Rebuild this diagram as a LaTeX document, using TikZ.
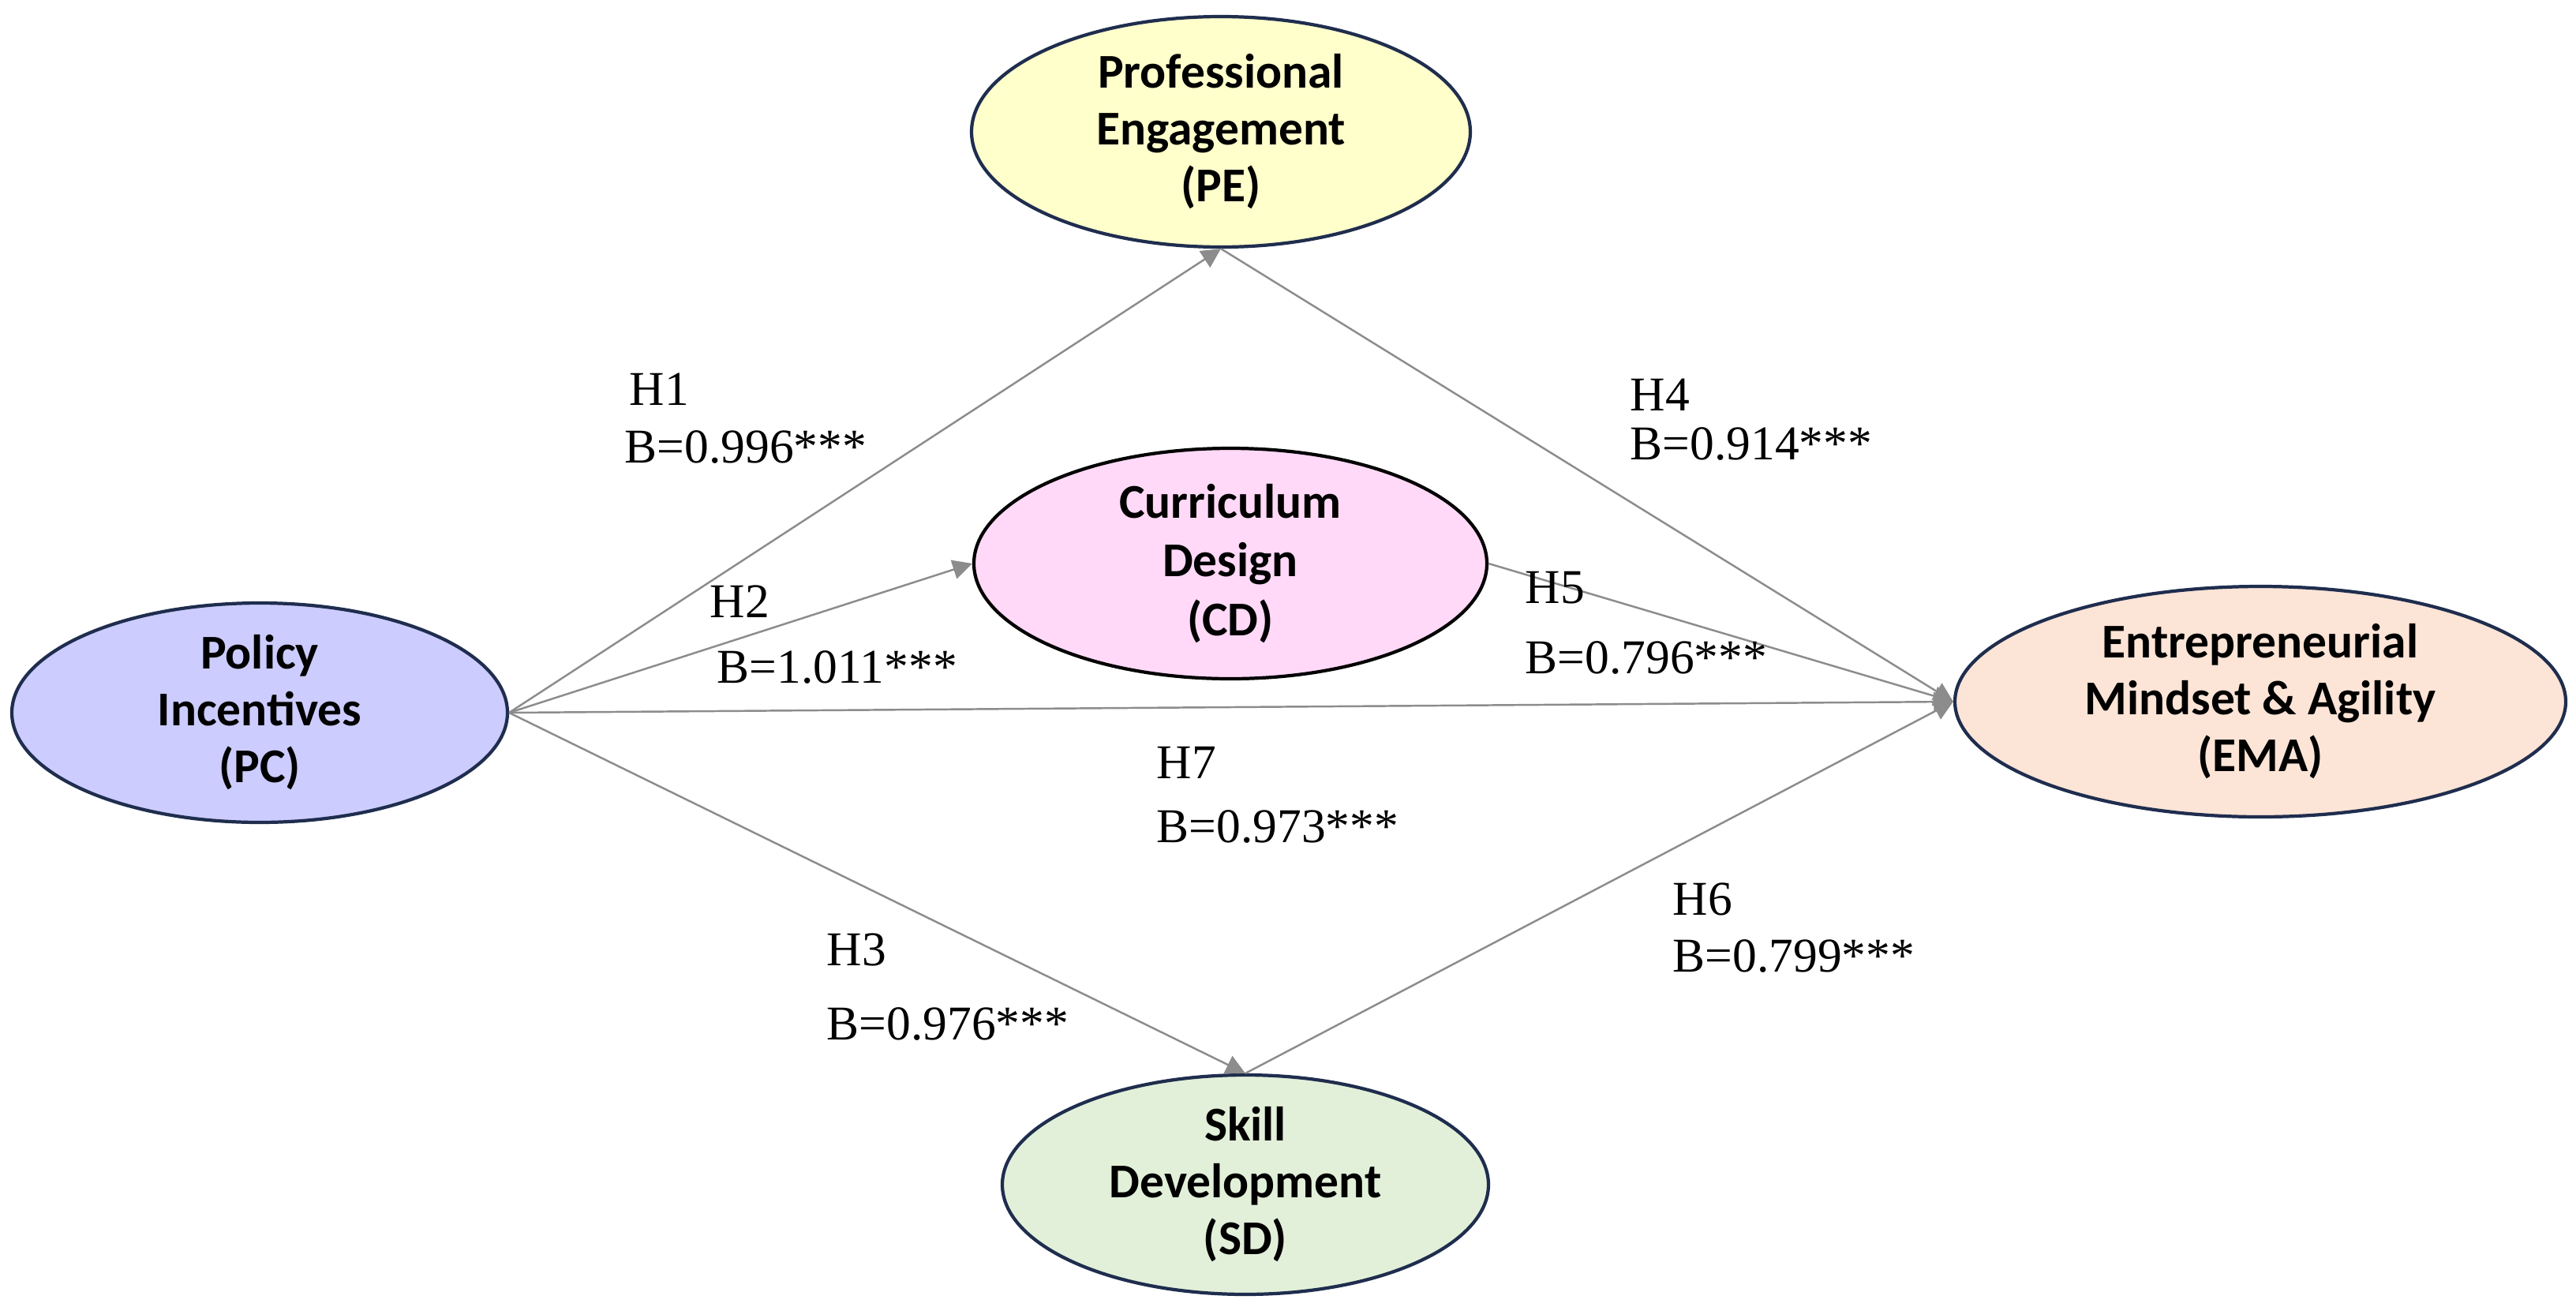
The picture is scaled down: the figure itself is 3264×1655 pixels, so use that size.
\documentclass[tikz,border=0pt]{standalone}
\usepackage{fontspec}
\setmainfont{Liberation Serif}
\newfontfamily\calfont{Carlito}
\usetikzlibrary{shapes.geometric,arrows.meta}
\definecolor{bordnavy}{HTML}{1F2D4E}
\definecolor{linegray}{HTML}{8C8C8C}
\definecolor{peFill}{HTML}{FFFFCC}
\definecolor{cdFill}{HTML}{FFD9F7}
\definecolor{pcFill}{HTML}{CCCCFF}
\definecolor{emaFill}{HTML}{FCE4D6}
\definecolor{sdFill}{HTML}{E2F0D9}
\tikzset{
  construct/.style={ellipse, draw=bordnavy, line width=1.2pt, inner sep=0pt, align=center,
    font=\calfont\bfseries\fontsize{17.5}{20.5}\selectfont},
  path/.style={draw=linegray, line width=0.7pt, -{Triangle[length=7pt,width=7pt]}},
  lbl/.style={anchor=west, inner sep=0pt, font=\fontsize{17.5}{21}\selectfont}
}
\begin{document}
\begin{tikzpicture}[x=0.1mm, y=-0.1mm]
\useasboundingbox (0,0) rectangle (3264,1655);
\node[construct, fill=peFill, minimum width=63.2mm, minimum height=29.2mm] (pe) at (1547,167) {Professional\\Engagement\\(PE)};
\node[construct, fill=cdFill, draw=black, minimum width=65mm, minimum height=29.2mm,
  font=\calfont\bfseries\fontsize{17.5}{21.3}\selectfont] (cd) at (1559,714) {Curriculum\\Design\\(CD)};
\node[construct, fill=pcFill, minimum width=62.8mm, minimum height=25.4mm] (pc) at (329,903) {Policy\\Incentives\\(PC)};
\node[construct, fill=emaFill, minimum width=77.4mm, minimum height=29.2mm] (ema) at (2864,889) {Entrepreneurial\\Mindset \& Agility\\(EMA)};
\node[construct, fill=sdFill, minimum width=61.6mm, minimum height=27.4mm] (sd) at (1578,1501) {Skill\\Development\\(SD)};

\draw[path] (pc.east) -- (pe.south);
\draw[path] (pc.east) -- (cd.west);
\draw[path] (pc.east) -- (ema.west);
\draw[path] (pc.east) -- (sd.north);
\draw[path] (pe.south) -- (ema.west);
\draw[path] (cd.east) -- (ema.west);
\draw[path] (sd.north) -- (ema.west);

\node[lbl] (h1) at (797,493) {H1};
\node[lbl] (b1) at (791,566) {B=0.996***};
\node[lbl] (h2) at (899,762) {H2};
\node[lbl] (b2) at (908,845) {B=1.011***};
\node[lbl] (h4) at (2065,500) {H4};
\node[lbl] (b4) at (2065,562) {B=0.914***};
\node[lbl] (h5) at (1932,745) {H5};
\node[lbl] (b5) at (1932,833) {B=0.796***};
\node[lbl] (h7) at (1465,966) {H7};
\node[lbl] (b7) at (1465,1047) {B=0.973***};
\node[lbl] (h3) at (1047,1203) {H3};
\node[lbl] (b3) at (1047,1297) {B=0.976***};
\node[lbl] (h6) at (2119,1139) {H6};
\node[lbl] (b6) at (2119,1211) {B=0.799***};
\end{tikzpicture}
\end{document}
